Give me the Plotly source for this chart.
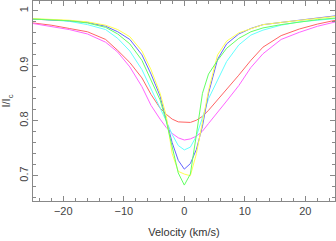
import plotly.graph_objects as go

velocity = [-25, -22, -19, -16, -13, -11, -9, -7, -5.5, -4, -3, -2, -1, 0, 1, 2, 3, 4, 5.5, 7, 9, 11, 13, 16, 19, 22, 25]

red = [.978, .974, .968, .962, .948, .928, .906, .878, .848, .823, .812, .803, .798, .797, .797, .801, .808, .819, .838, .857, .883, .910, .934, .955, .967, .976, .983]
magenta = [.977, .972, .966, .958, .943, .925, .898, .862, .828, .803, .788, .777, .769, .765, .767, .772, .781, .795, .815, .836, .864, .897, .922, .948, .961, .972, .980]
cyan = [.986, .984, .981, .975, .966, .950, .927, .893, .858, .825, .800, .775, .755, .747, .752, .772, .805, .840, .874, .908, .938, .956, .965, .974, .980, .983, .986]
blue = [.985, .984, .982, .979, .972, .962, .948, .920, .885, .845, .805, .760, .728, .712, .722, .748, .790, .850, .912, .940, .958, .968, .975, .979, .983, .987, .991]
yellow = [.986, .985, .983, .980, .974, .966, .953, .927, .893, .850, .810, .740, .708, .703, .700, .740, .800, .855, .920, .945, .960, .968, .975, .979, .983, .987, .990]
green = [.985, .984, .982, .978, .970, .958, .940, .910, .875, .838, .800, .755, .705, .683, .703, .775, .850, .885, .910, .932, .950, .962, .969, .975, .980, .984, .987]

series = [
    ("red", red, "#ff6464"),
    ("magenta", magenta, "#ff64ff"),
    ("cyan", cyan, "#64ffff"),
    ("blue", blue, "#6464ff"),
    ("yellow", yellow, "#ffff50"),
    ("green", green, "#64ff64"),
]

fig = go.Figure()
for name, vals, col in series:
    fig.add_trace(go.Scatter(x=velocity, y=vals, mode="lines", name=name,
                             line=dict(color=col, width=1)))

FONT = "Liberation Sans, Arial, sans-serif"
axis_common = dict(
    showline=True, linecolor="#888888", linewidth=1, mirror="allticks",
    ticks="inside", ticklen=5, tickcolor="#888888", tickwidth=1,
    showgrid=False, zeroline=False, automargin=False,
    tickfont=dict(family=FONT, size=11, color="#444444"),
)

fig.update_layout(
    width=336, height=241,
    margin=dict(l=33, r=1, t=1, b=40),
    paper_bgcolor="white", plot_bgcolor="white",
    showlegend=False,
    xaxis=dict(range=[-25, 24.9], tickvals=[-20, -10, 0, 10, 20],
               minor=dict(ticks="inside", dtick=2, ticklen=3, tickcolor="#888888"),
               title=dict(text="Velocity (km/s)", standoff=12,
                          font=dict(family=FONT, size=11, color="#333333")),
               **axis_common),
    yaxis=dict(range=[0.654, 1.018], tickvals=[0.7, 0.8, 0.9, 1.0], ticktext=["0.7", "0.8", "0.9", "1"],
               tickangle=-90,
               minor=dict(ticks="inside", dtick=0.02, tick0=0.7, ticklen=3, tickcolor="#888888"),
               title=dict(text="I/I<sub>c</sub>", standoff=4,
                          font=dict(family=FONT, size=11, color="#333333")),
               **axis_common),
)

fig.write_html("out.html", config={"displayModeBar": False},
               post_script="document.body.style.margin='0';document.body.style.overflow='hidden';")
